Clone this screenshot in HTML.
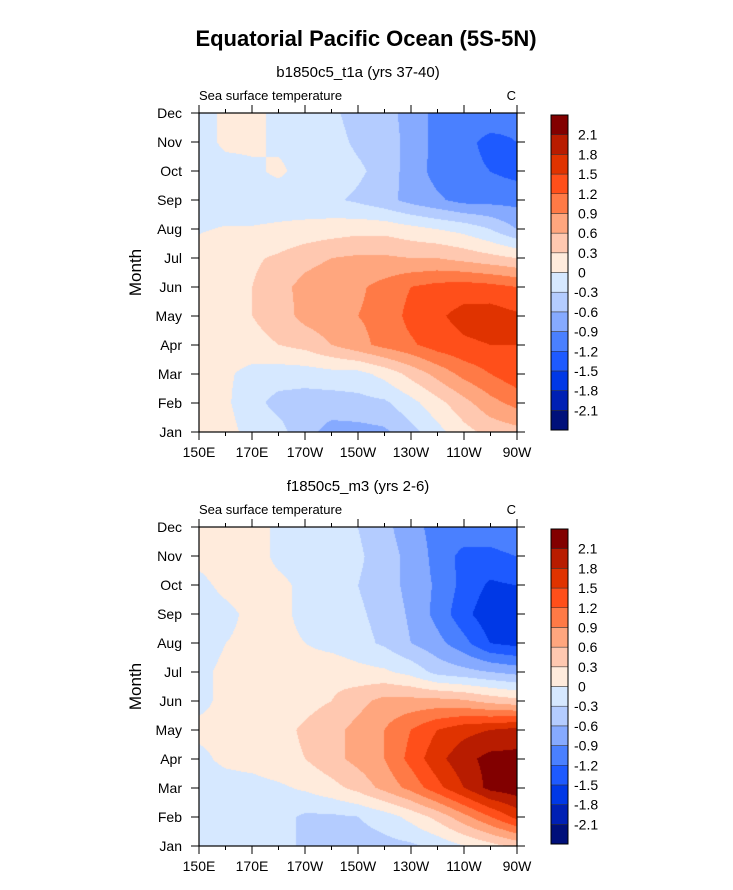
<!DOCTYPE html>
<html><head><meta charset="utf-8">
<style>
body{margin:0;background:#fff;}
#wrap{position:relative;width:733px;height:890px;font-family:"Liberation Sans",Arial,sans-serif;}
canvas{position:absolute;}
svg{position:absolute;left:0;top:0;}
</style></head>
<body>
<div id="wrap">
<canvas id="c1" width="318" height="319" style="left:199px;top:113px"></canvas>
<canvas id="c2" width="318" height="319" style="left:199px;top:527px"></canvas>
<svg id="svg" width="733" height="890"></svg>
</div>
<script>
const months = ["Jan","Feb","Mar","Apr","May","Jun","Jul","Aug","Sep","Oct","Nov","Dec"];
const lonLabels = ["150E","170E","170W","150W","130W","110W","90W"];
const levelLabels = ["-2.1","-1.8","-1.5","-1.2","-0.9","-0.6","-0.3","0","0.3","0.6","0.9","1.2","1.5","1.8","2.1"];
const levels = [-2.1,-1.8,-1.5,-1.2,-0.9,-0.6,-0.3,0,0.3,0.6,0.9,1.2,1.5,1.8,2.1];
const colors = ["#00107a","#0020b4","#0038e6","#1e5aff","#4a80ff","#86aaff","#b4ccff","#d6e8ff","#ffebdc","#ffc8b0","#ffa67e","#ff7a46","#ff4f1a","#e03300","#b81c00","#820000"];
// values: rows Jan..Dec, columns 150E..90W every 10 deg
const sstTop = [
[0.1,0.1,-0.1,-0.2,-0.5,-0.7,-0.7,-0.65,-0.4,-0.1,0.2,0.4,0.5],
[0.1,0.05,-0.2,-0.4,-0.45,-0.45,-0.4,-0.35,-0.1,0.2,0.5,0.8,1.0],
[0.1,0.05,-0.1,-0.15,-0.15,-0.1,-0.1,0.1,0.4,0.7,1.0,1.2,1.4],
[0.1,0.15,0.2,0.3,0.4,0.6,0.8,1.0,1.15,1.35,1.45,1.5,1.5],
[0.1,0.15,0.3,0.45,0.7,0.8,0.9,1.0,1.3,1.45,1.6,1.65,1.55],
[0.1,0.15,0.3,0.5,0.7,0.8,0.85,1.0,1.2,1.3,1.35,1.3,1.2],
[0.1,0.15,0.25,0.35,0.5,0.6,0.65,0.65,0.6,0.6,0.5,0.4,0.3],
[-0.02,0.02,0.02,0.05,0.1,0.15,0.2,0.2,0.1,0.0,-0.1,-0.3,-0.6],
[-0.1,-0.15,-0.15,-0.15,-0.2,-0.25,-0.35,-0.5,-0.7,-0.85,-1.0,-1.0,-1.0],
[-0.15,-0.1,-0.05,0.05,-0.1,-0.15,-0.25,-0.4,-0.75,-1.0,-1.1,-1.2,-1.3],
[-0.1,0.05,0.05,-0.05,-0.1,-0.2,-0.35,-0.45,-0.7,-1.0,-1.1,-1.3,-1.2],
[-0.1,0.05,0.05,-0.05,-0.15,-0.25,-0.4,-0.5,-0.7,-1.0,-1.0,-1.0,-1.1]
];
const sstBottom = [
[-0.05,-0.1,-0.15,-0.2,-0.35,-0.4,-0.45,-0.4,-0.35,-0.2,0.0,0.2,0.4],
[-0.1,-0.1,-0.15,-0.2,-0.35,-0.35,-0.3,-0.15,0.1,0.4,0.8,1.2,1.6],
[-0.1,-0.1,-0.1,-0.05,0.05,0.2,0.4,0.7,1.0,1.4,1.8,2.2,2.3],
[-0.05,0.05,0.1,0.2,0.3,0.5,0.7,0.9,1.3,1.7,2.0,2.2,2.2],
[0.05,0.05,0.1,0.2,0.35,0.5,0.7,0.9,1.2,1.5,1.7,1.8,1.9],
[-0.05,0.05,0.1,0.1,0.2,0.3,0.5,0.7,0.7,0.7,0.65,0.5,0.4],
[-0.05,0.05,0.05,0.1,0.15,0.2,0.1,0.05,-0.1,-0.4,-0.5,-0.6,-0.7],
[-0.1,0.0,0.05,0.05,0.0,-0.1,-0.2,-0.35,-0.6,-0.8,-1.1,-1.5,-1.6],
[-0.1,-0.05,0.05,0.05,-0.05,-0.15,-0.25,-0.4,-0.65,-1.0,-1.4,-1.7,-1.7],
[-0.05,0.05,0.1,0.05,-0.05,-0.15,-0.3,-0.45,-0.7,-0.95,-1.3,-1.55,-1.5],
[0.05,0.1,0.1,-0.05,-0.1,-0.15,-0.25,-0.45,-0.7,-1.0,-1.3,-1.3,-1.2],
[0.05,0.1,0.1,-0.05,-0.1,-0.2,-0.3,-0.5,-0.8,-1.0,-1.0,-1.0,-0.9]
];

const NS="http://www.w3.org/2000/svg";
const svg=document.getElementById('svg');
function mk(tag,attrs,parent){const e=document.createElementNS(NS,tag);for(const k in attrs)e.setAttribute(k,attrs[k]);(parent||svg).appendChild(e);return e;}
function colorFor(v){let i=0;while(i<levels.length&&v>=levels[i])i++;return colors[i];}
function hex(c){return [parseInt(c.substr(1,2),16),parseInt(c.substr(3,2),16),parseInt(c.substr(5,2),16)];}

function drawFill(id,data){
  const cv=document.getElementById(id),ctx=cv.getContext('2d');
  const W=cv.width,H=cv.height,img=ctx.createImageData(W,H);
  const nc=data[0].length-1,nr=data.length-1;
  for(let py=0;py<H;py++){
    const fy=(H-1-py)/(H-1)*nr; const r0=Math.min(Math.floor(fy),nr-1), ty=fy-r0;
    for(let px=0;px<W;px++){
      const fx=px/(W-1)*nc; const c0=Math.min(Math.floor(fx),nc-1), tx=fx-c0;
      const v=(data[r0][c0]*(1-tx)+data[r0][c0+1]*tx)*(1-ty)+(data[r0+1][c0]*(1-tx)+data[r0+1][c0+1]*tx)*ty;
      const rgb=hex(colorFor(v)); const k=(py*W+px)*4;
      img.data[k]=rgb[0];img.data[k+1]=rgb[1];img.data[k+2]=rgb[2];img.data[k+3]=255;
    }
  }
  ctx.putImageData(img,0,0);
}
drawFill('c1',sstTop);
drawFill('c2',sstBottom);

let t=mk('text',{x:366,y:46,'text-anchor':'middle','font-size':22,'font-weight':'bold','font-family':'Liberation Sans, sans-serif'});
t.textContent="Equatorial Pacific Ocean (5S-5N)";

function panel(top,sub,prefix){
  const L=199,R=517,T=top,B=top+319;
  const x=i=>L+(R-L)*i/12, y=i=>B-(B-T)*i/11;
  let s=mk('text',{x:358,y:T-36,'text-anchor':'middle','font-size':15,'font-family':'Liberation Sans, sans-serif'});
  s.textContent=sub;
  s=mk('text',{x:199,y:T-13,'font-size':13,'font-family':'Liberation Sans, sans-serif'});
  s.textContent="Sea surface temperature";
  s=mk('text',{x:516,y:T-13,'text-anchor':'end','font-size':13,'font-family':'Liberation Sans, sans-serif'});
  s.textContent="C";
  s=mk('text',{x:0,y:0,'text-anchor':'middle','font-size':17,transform:`translate(141,${(T+B)/2}) rotate(-90)`,'font-family':'Liberation Sans, sans-serif'});
  s.textContent="Month";
  const g=mk('g',{stroke:'#000','stroke-width':1});
  
  for(let i=0;i<=12;i++){const len=i%2==0?8:4;
    mk('line',{x1:x(i),x2:x(i),y1:B,y2:B+len},g);mk('line',{x1:x(i),x2:x(i),y1:T,y2:T-len},g);}
  for(let i=0;i<12;i++){
    mk('line',{x1:L,x2:L-8,y1:y(i),y2:y(i)},g);mk('line',{x1:R,x2:R+8,y1:y(i),y2:y(i)},g);
    const lb=mk('text',{x:182,y:y(i)+5,'text-anchor':'end','font-size':14,'font-family':'Liberation Sans, sans-serif',stroke:'none'});
    lb.textContent=months[i];
  }
  lonLabels.forEach((l,i)=>{const lb=mk('text',{x:x(i*2),y:B+25,'text-anchor':'middle','font-size':14,'font-family':'Liberation Sans, sans-serif'});
    lb.textContent=l;});
  const fr=mk('rect',{x:L,y:T,width:R-L,height:B-T,fill:'none',stroke:'#000','stroke-width':1.2});
  
  const cbT=T+2,cbB=B-2,cbL=551,cbW=17,h=(cbB-cbT)/16;
  const cb=mk('g',{});
  colors.forEach((c,i)=>{const r=mk('rect',{x:cbL,y:cbB-(i+1)*h,width:cbW,height:h,fill:c,stroke:'#333','stroke-width':0.5},cb);
    });
  mk('rect',{x:cbL,y:cbT,width:cbW,height:cbB-cbT,fill:'none',stroke:'#000','stroke-width':1},cb);
  levelLabels.forEach((l,i)=>{const lb=mk('text',{x:l[0]=='-'?574:578,y:cbB-(i+1)*h+5,'font-size':14,'font-family':'Liberation Sans, sans-serif'},cb);
    lb.textContent=l;});
}
panel(113,"b1850c5_t1a (yrs 37-40)","top");
panel(527,"f1850c5_m3 (yrs 2-6)","bottom");
</script>
</body></html>
